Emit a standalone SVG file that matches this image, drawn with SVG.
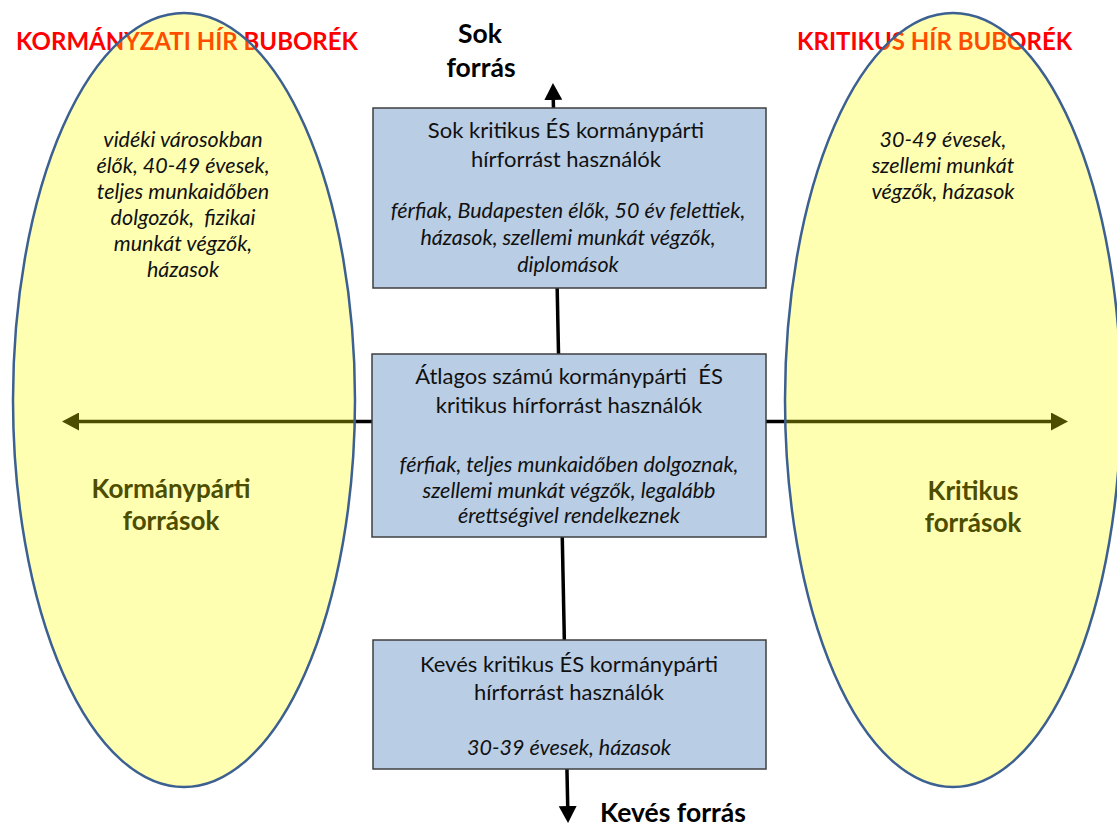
<svg xmlns="http://www.w3.org/2000/svg" width="1117" height="830" viewBox="0 0 1117 830">
<style>
  .title { font-family: Lato, "Liberation Sans", sans-serif; font-weight: bold; font-size: 24px; fill: #FF0000; }
  .bubble { fill: #FFFF00; fill-opacity: 0.3; stroke: #3B6091; stroke-width: 2.5; }
  .box { fill: #B9CDE5; stroke: #3F3F3F; stroke-width: 1.5; }
  .head { font-family: Lato, "Liberation Sans", sans-serif; font-size: 22px; fill: #111; text-anchor: middle; }
  .it { font-family: Lato, "Liberation Sans", sans-serif; font-style: italic; font-size: 21.5px; fill: #111; text-anchor: middle; }
  .axis { font-family: Lato, "Liberation Sans", sans-serif; font-weight: bold; font-size: 26.5px; fill: #000; }
  .side { font-family: Lato, "Liberation Sans", sans-serif; font-weight: bold; font-size: 26px; fill: #4D4D00; text-anchor: middle; }
  .line { stroke: #000; stroke-width: 3.5; fill: none; }
</style>
<defs>
  <marker id="ah" viewBox="0 0 17 18" markerUnits="userSpaceOnUse" markerWidth="17" markerHeight="18" refX="0" refY="9" orient="auto">
    <path d="M0,0 L17,9 L0,18 z" fill="#000"/>
  </marker>
</defs>
<rect width="1117" height="830" fill="#FFFFFF"/>
<g id="titles">
  <text class="title" x="16" y="50">KORMÁNYZATI HÍR BUBORÉK</text>
  <text class="title" x="797" y="50">KRITIKUS HÍR BUBORÉK</text>
</g>
<g id="connectors">
  <line class="line" x1="566" y1="421.5" x2="79" y2="421.5" marker-end="url(#ah)"/>
  <line class="line" x1="566" y1="421.5" x2="1051" y2="421.5" marker-end="url(#ah)"/>
  <line class="line" x1="560.5" y1="450" x2="553.3" y2="100" marker-end="url(#ah)"/>
  <line class="line" x1="560.5" y1="450" x2="567.7" y2="806" marker-end="url(#ah)"/>
</g>
<g id="bubble-left">
  <ellipse class="bubble" cx="184" cy="400" rx="171" ry="387"/>
  <text class="it" x="183" y="147">vidéki városokban</text>
  <text class="it" x="183" y="173">élők, 40-49 évesek,</text>
  <text class="it" x="183" y="199">teljes munkaidőben</text>
  <text class="it" x="183" y="225" xml:space="preserve">dolgozók,  fizikai</text>
  <text class="it" x="183" y="251">munkát végzők,</text>
  <text class="it" x="183" y="277">házasok</text>
  <text class="side" x="171" y="498">Kormánypárti</text>
  <text class="side" x="171" y="530">források</text>
</g>
<g id="bubble-right">
  <ellipse class="bubble" cx="953" cy="400" rx="168" ry="387"/>
  <text class="it" x="943" y="147">30-49 évesek,</text>
  <text class="it" x="943" y="173">szellemi munkát</text>
  <text class="it" x="943" y="199">végzők, házasok</text>
  <text class="side" x="973" y="500">Kritikus</text>
  <text class="side" x="973" y="532">források</text>
</g>
<g id="axis-labels">
  <text class="axis" x="480" y="43" text-anchor="middle">Sok</text>
  <text class="axis" x="481" y="77" text-anchor="middle">forrás</text>
  <text class="axis" x="600" y="822">Kevés forrás</text>
</g>
<g id="box-sok">
  <rect class="box" x="373" y="108" width="393" height="180"/>
  <text class="head" x="566" y="138">Sok kritikus ÉS kormánypárti</text>
  <text class="head" x="566" y="167">hírforrást használók</text>
  <text class="it" x="568" y="218">férfiak, Budapesten élők, 50 év felettiek,</text>
  <text class="it" x="568" y="245">házasok, szellemi munkát végzők,</text>
  <text class="it" x="568" y="272">diplomások</text>
</g>
<g id="box-atlagos">
  <rect class="box" x="372" y="354" width="394" height="183"/>
  <text class="head" x="569" y="384" xml:space="preserve">Átlagos számú kormánypárti  ÉS</text>
  <text class="head" x="569" y="413">kritikus hírforrást használók</text>
  <text class="it" x="569" y="472">férfiak, teljes munkaidőben dolgoznak,</text>
  <text class="it" x="569" y="498">szellemi munkát végzők, legalább</text>
  <text class="it" x="569" y="523">érettségivel rendelkeznek</text>
</g>
<g id="box-keves">
  <rect class="box" x="373" y="640" width="393" height="129"/>
  <text class="head" x="569" y="672">Kevés kritikus ÉS kormánypárti</text>
  <text class="head" x="569" y="700">hírforrást használók</text>
  <text class="it" x="569" y="755">30-39 évesek, házasok</text>
</g>
</svg>
